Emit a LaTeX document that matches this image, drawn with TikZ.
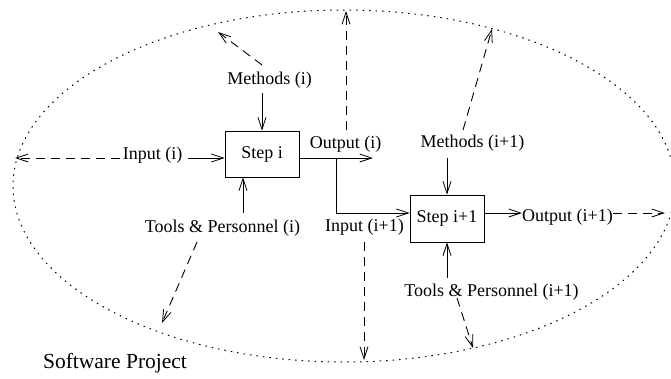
\documentclass[tikz,border=0pt]{standalone}
\usepackage{fontspec}
\setmainfont{Liberation Serif}
\usetikzlibrary{arrows.meta}
\tikzset{
  lbl/.style={inner sep=0pt, font=\fontsize{18}{20}\selectfont},
  stepbox/.style={draw, line width=0.9pt, inner sep=0pt, font=\fontsize{18}{20}\selectfont},
  solidarrow/.style={line width=0.9pt, -{Straight Barb[length=12pt,width=8pt,line width=0.8pt]}},
  dasharrow/.style={line width=0.9pt, dash pattern=on 9pt off 6pt, -{Straight Barb[length=12pt,width=8pt,line width=0.8pt]}},
  dotline/.style={line width=1pt, dash pattern=on 1.5pt off 5pt},
}
\begin{document}
\begin{tikzpicture}[x=1pt,y=-1pt]
\useasboundingbox (0,0) rectangle (671,378);
% project boundary
\draw[dotline] (344,186) ellipse [x radius=331, y radius=176];

% steps
\node[stepbox, minimum width=74pt, minimum height=46pt] (s1) at (262,154) {Step i};
\node[stepbox, minimum width=74pt, minimum height=47pt] (s2) at (447,218.5) {Step i+1};

% labels
\node[lbl] (m1) at (269.5,80) {Methods (i)};
\node[lbl] (i1) at (152.5,155) {Input (i)};
\node[lbl] (o1) at (345.5,144) {Output (i)};
\node[lbl] (t1) at (222.5,228) {Tools \& Personnel (i)};
\node[lbl] (m2) at (472.5,143) {Methods (i+1)};
\node[lbl] (i2) at (364.5,227) {Input (i+1)};
\node[lbl] (o2) at (567.5,217) {Output (i+1)};
\node[lbl] (t2) at (491.5,292) {Tools \& Personnel (i+1)};
\node[inner sep=0pt, font=\fontsize{21.5}{24}\selectfont] (sp) at (115,363) {Software Project};

% coordinates
\coordinate (m1s) at (262,93);
\coordinate (m1d) at (262,65);
\coordinate (m1e) at (218,32);
\coordinate (i1s) at (188,158);
\coordinate (i1d) at (120,158);
\coordinate (i1e) at (15,158);
\coordinate (t1s) at (243,213);
\coordinate (t1d) at (197,242);
\coordinate (t1e) at (162,323);
\coordinate (o1a) at (299,158);
\coordinate (o1e) at (373,158);
\coordinate (br) at (336,158);
\coordinate (brd) at (336,213);
\coordinate (o1d) at (346,130);
\coordinate (o1t) at (346,11);
\coordinate (m2s) at (447,158);
\coordinate (m2d) at (463,130);
\coordinate (m2e) at (492,29);
\coordinate (o2s) at (484,213);
\coordinate (o2e) at (522,213);
\coordinate (o2d) at (613,213);
\coordinate (o2t) at (665,213);
\coordinate (i2d) at (364,242);
\coordinate (i2e) at (364,360);
\coordinate (t2s) at (447,278);
\coordinate (t2d) at (457,298);
\coordinate (t2e) at (473,348);

% solid arrows into steps
\draw[solidarrow] (m1s) -- (s1.north -| m1s);
\draw[solidarrow] (i1s) -- (s1.west |- i1s);
\draw[solidarrow] (t1s) -- (s1.south -| t1s);
\draw[solidarrow] (o1a) -- (o1e);
\draw[solidarrow] (br) -- (brd) -- (s2.west |- brd);
\draw[solidarrow] (m2s) -- (s2.north);
\draw[solidarrow] (t2s) -- (s2.south);
\draw[solidarrow] (o2s) -- (o2e);

% dashed arrows to the boundary
\draw[dasharrow] (m1d) -- (m1e);
\draw[dasharrow] (i1d) -- (i1e);
\draw[dasharrow] (t1d) -- (t1e);
\draw[dasharrow] (o1d) -- (o1t);
\draw[dasharrow] (m2d) -- (m2e);
\draw[dasharrow] (o2d) -- (o2t);
\draw[dasharrow] (i2d) -- (i2e);
\draw[dasharrow] (t2d) -- (t2e);
\end{tikzpicture}
\end{document}
